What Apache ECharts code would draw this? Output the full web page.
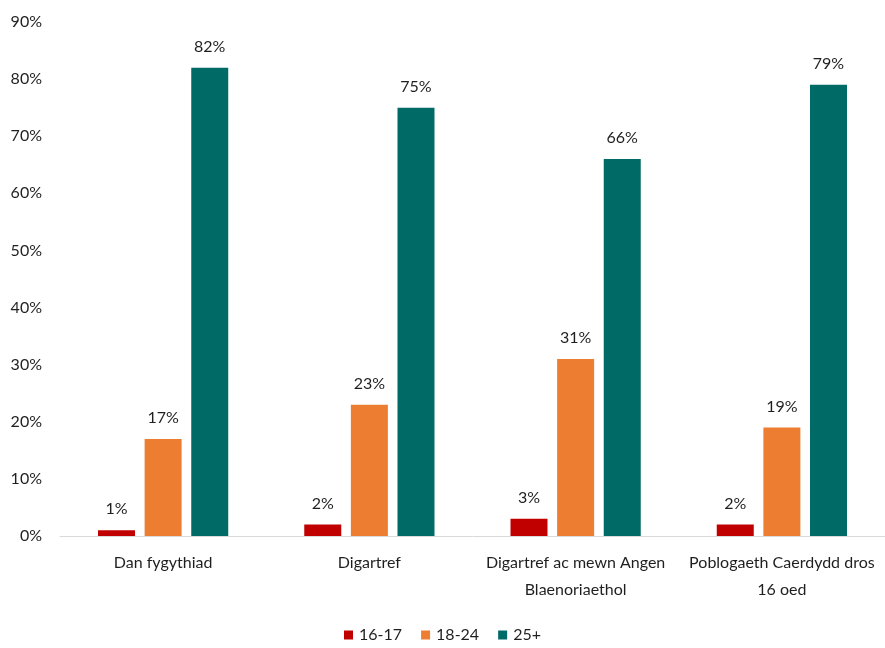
<!DOCTYPE html>
<html><head><meta charset="utf-8">
<script src="https://cdn.jsdelivr.net/npm/echarts@6/dist/echarts.min.js"></script>
<style>html,body{margin:0;padding:0;background:#fff}#c{width:885px;height:648px}</style>
</head><body><div id="c"></div>
<script>
const categories = ['Dan fygythiad', 'Digartref', 'Digartref ac mewn Angen\nBlaenoriaethol', 'Poblogaeth Caerdydd dros\n16 oed'];
const seriesNames = ['16-17', '18-24', '25+'];
const s1617 = [1, 2, 3, 2];
const s1824 = [17, 23, 31, 19];
const s25 = [82, 75, 66, 79];
const yTicks = [0, 10, 20, 30, 40, 50, 60, 70, 80, 90];
const colors = ['#C00000', '#ED7D31', '#006A66'];
const FONT = 'Lato';
const chart = echarts.init(document.getElementById('c'));
const mk = (name, data, color) => ({
  name, type: 'bar', data, barWidth: 37, barGap: '26%',
  itemStyle: { color },
  label: { show: true, position: 'top', distance: 13, formatter: '{c}%', color: '#1f1f1f', fontFamily: FONT, fontSize: 16 }
});
chart.setOption({
  animation: false,
  textStyle: { fontFamily: FONT },
  grid: { left: 60, top: 22, width: 829, bottom: 112, containLabel: false },
  legend: {
    bottom: 0, left: 'center', itemWidth: 9, itemHeight: 9, itemGap: 19,
    icon: 'rect',
    textStyle: { fontFamily: FONT, fontSize: 16, color: '#1f1f1f', padding: [0, 0, 0, 1] },
    data: seriesNames
  },
  xAxis: {
    type: 'category', data: categories,
    axisLine: { lineStyle: { color: '#d9d9d9', width: 1 } },
    axisTick: { show: false },
    axisLabel: { fontFamily: FONT, fontSize: 16, color: '#1f1f1f', margin: 13, lineHeight: 27, interval: 0 }
  },
  yAxis: {
    type: 'value', min: yTicks[0], max: yTicks[yTicks.length - 1], interval: 10,
    splitLine: { show: false },
    axisLine: { show: false }, axisTick: { show: false },
    axisLabel: { formatter: '{value}%', fontFamily: FONT, fontSize: 16, color: '#1f1f1f', margin: 18 }
  },
  series: [mk(seriesNames[0], s1617, colors[0]), mk(seriesNames[1], s1824, colors[1]), mk(seriesNames[2], s25, colors[2])]
});
</script></body></html>
